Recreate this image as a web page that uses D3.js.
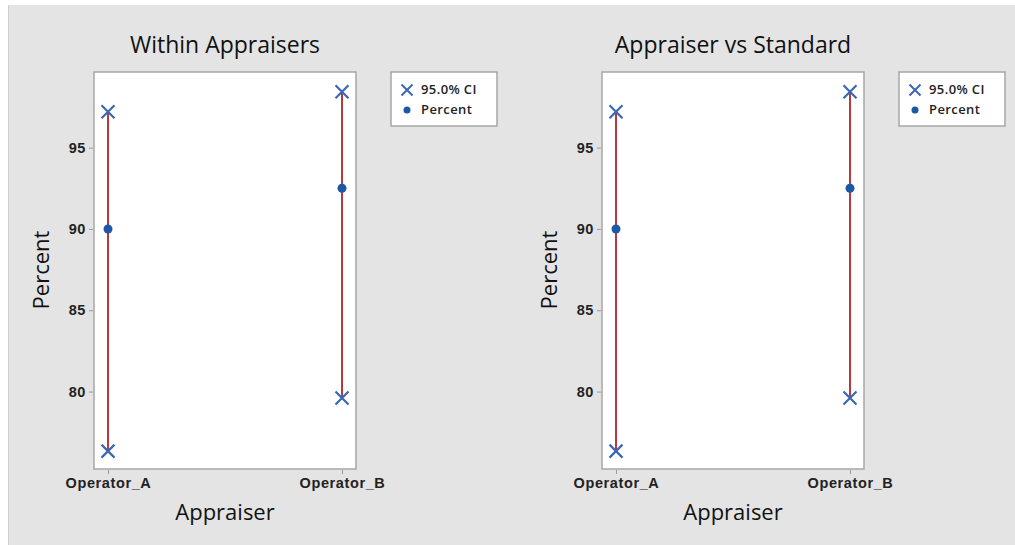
<!DOCTYPE html>
<html>
<head>
<meta charset="utf-8">
<script src="https://cdn.jsdelivr.net/npm/d3@7"></script>
<style>
    body { margin: 0; background: #fff; }
    svg { display: block; font-family: "Open Sans", "Noto Sans", sans-serif; }
    .tick text { font-size: 14.5px; font-weight: 600; fill: #222; letter-spacing: 0.6px; }
</style>
</head>
<body>
<div id="chart"></div>
<script>
const appraisers = ["Operator_A", "Operator_B"];
const percent = [90.0, 92.5];
const ciLower = [76.34, 79.61];
const ciUpper = [97.21, 98.43];
const panelTitles = ["Within Appraisers", "Appraiser vs Standard"];
const yTicks = [80, 85, 90, 95];
const legendLabels = ["95.0% CI", "Percent"];

const width = 1015, height = 545;
const blue = "#3a68b4", dotBlue = "#1d58a6", red = "#b8383d";

const svg = d3.select("#chart").append("svg")
    .attr("width", width)
    .attr("height", height);

// grey backdrop
svg.append("rect")
    .attr("x", 8).attr("y", 5)
    .attr("width", width - 8).attr("height", height - 5)
    .attr("fill", "#e4e4e4");
svg.append("line")
    .attr("x1", 8.5).attr("x2", 8.5).attr("y1", 5).attr("y2", height)
    .attr("stroke", "#cfcfcf");

// X marker drawn as two strokes
function crossPath(s) {
    return `M${-s},${-s}L${s},${s}M${-s},${s}L${s},${-s}`;
}

function drawPanel(offsetX, title, legendX) {
    const frame = { x0: 94 + offsetX, x1: 356 + offsetX, y0: 72, y1: 469 };

    const x = d3.scalePoint()
        .domain(appraisers)
        .range([frame.x0 + 14, frame.x1 - 14]);

    const y = d3.scaleLinear()
        .domain([75.24, 99.65])
        .range([frame.y1, frame.y0]);

    const g = svg.append("g");

    g.append("rect")
        .attr("x", frame.x0).attr("y", frame.y0)
        .attr("width", frame.x1 - frame.x0).attr("height", frame.y1 - frame.y0)
        .attr("fill", "#fff")
        .attr("stroke", "#a6a6a6")
        .attr("stroke-width", 1.5);

    const yAxis = g.append("g")
        .attr("transform", `translate(${frame.x0 - 1},0)`)
        .call(d3.axisLeft(y).tickValues(yTicks).tickSize(4).tickPadding(3));
    yAxis.select(".domain").remove();
    yAxis.selectAll(".tick line").attr("stroke", "#999");

    const xAxis = g.append("g")
        .attr("transform", `translate(0,${frame.y1 + 1})`)
        .call(d3.axisBottom(x).tickSize(4).tickPadding(4));
    xAxis.select(".domain").remove();
    xAxis.selectAll(".tick line").attr("stroke", "#999");

    // CI lines
    g.selectAll("line.ci")
        .data(appraisers)
        .enter()
        .append("line")
        .attr("class", "ci")
        .attr("x1", d => x(d)).attr("x2", d => x(d))
        .attr("y1", (d, i) => y(ciLower[i]))
        .attr("y2", (d, i) => y(ciUpper[i]))
        .attr("stroke", red)
        .attr("stroke-width", 2);

    // CI end markers
    const ends = [];
    appraisers.forEach((a, i) => {
        ends.push([a, ciLower[i]]);
        ends.push([a, ciUpper[i]]);
    });
    g.selectAll("path.ci-end")
        .data(ends)
        .enter()
        .append("path")
        .attr("class", "ci-end")
        .attr("d", crossPath(6.5))
        .attr("transform", d => `translate(${x(d[0])},${y(d[1])})`)
        .attr("fill", "none")
        .attr("stroke", blue)
        .attr("stroke-width", 2.2);

    g.selectAll("circle.pct")
        .data(appraisers)
        .enter()
        .append("circle")
        .attr("class", "pct")
        .attr("cx", d => x(d))
        .attr("cy", (d, i) => y(percent[i]))
        .attr("r", 4.5)
        .attr("fill", dotBlue);

    g.append("text")
        .text(title)
        .attr("x", (frame.x0 + frame.x1) / 2)
        .attr("y", 53)
        .attr("text-anchor", "middle")
        .attr("font-size", 23)
        .attr("fill", "#111");

    g.append("text")
        .text("Appraiser")
        .attr("x", (frame.x0 + frame.x1) / 2)
        .attr("y", 520)
        .attr("text-anchor", "middle")
        .attr("font-size", 22)
        .attr("fill", "#111");

    g.append("text")
        .text("Percent")
        .attr("transform", `translate(${offsetX + 49},270) rotate(-90)`)
        .attr("text-anchor", "middle")
        .attr("font-size", 22)
        .attr("fill", "#111");

    // legend
    const legend = g.append("g").attr("transform", `translate(${legendX},72)`);
    legend.append("rect")
        .attr("width", 106).attr("height", 54)
        .attr("fill", "#fff")
        .attr("stroke", "#a6a6a6")
        .attr("stroke-width", 1.5);
    legend.append("path")
        .attr("d", crossPath(5.5))
        .attr("transform", "translate(16,18)")
        .attr("fill", "none")
        .attr("stroke", blue)
        .attr("stroke-width", 2);
    legend.append("circle")
        .attr("cx", 16).attr("cy", 38).attr("r", 3.5)
        .attr("fill", dotBlue);
    legend.selectAll("text")
        .data(legendLabels)
        .enter()
        .append("text")
        .text(d => d)
        .attr("x", 30)
        .attr("y", (d, i) => 22 + i * 20)
        .attr("font-size", 13)
        .attr("font-weight", 600)
        .attr("letter-spacing", 0.4)
        .attr("fill", "#222");
}

drawPanel(0, panelTitles[0], 391);
drawPanel(508, panelTitles[1], 899);
</script>
</body>
</html>
